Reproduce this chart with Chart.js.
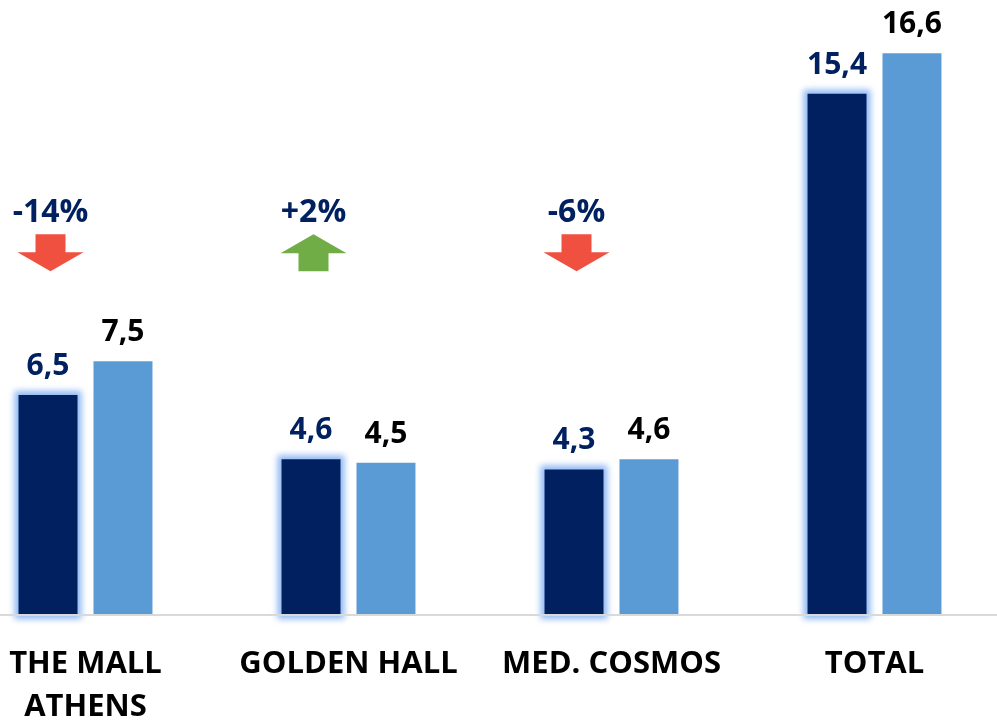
<!DOCTYPE html>
<html>
<head>
<meta charset="utf-8">
<script src="https://cdn.jsdelivr.net/npm/chart.js@4"></script>
<style>
  html, body { margin: 0; padding: 0; width: 997px; height: 721px; overflow: hidden; background: #fff; }
  #wrap { position: absolute; left: -46px; top: 0; width: 1052px; height: 721px; }
</style>
</head>
<body>
<div id="wrap"><canvas id="c" width="1052" height="721"></canvas></div>
<script>
const categories = [['THE MALL', 'ATHENS'], 'GOLDEN HALL', 'MED. COSMOS', 'TOTAL'];
const currentValues = [6.5, 4.6, 4.3, 15.4];
const previousValues = [7.5, 4.5, 4.6, 16.6];
const changeLabels = ['-14%', '+2%', '-6%', null];
const changeDirections = ['down', 'up', 'down', null];

const NAVY = '#002060';
const LIGHT = '#5B9BD5';
const FONT = '"Open Sans", "Noto Sans", sans-serif';

// soft light-blue glow behind the dark (current) bars
const glowPlugin = {
  id: 'glow',
  beforeDatasetDraw(chart, args) {
    if (args.index !== 0) return;
    const ctx = chart.ctx;
    const meta = chart.getDatasetMeta(0);
    ctx.save();
    ctx.filter = 'blur(3px)';
    ctx.fillStyle = '#8FB8F4';
    meta.data.forEach(bar => {
      const w = bar.width;
      const x0 = bar.x - w / 2;
      const top = Math.min(bar.y, bar.base);
      const h = Math.abs(bar.base - bar.y);
      const g = 4;
      ctx.fillRect(x0 - g, top - g, w + 2 * g, h + 2 * g);
    });
    ctx.restore();
  }
};

const labelPlugin = {
  id: 'labels',
  afterDatasetsDraw(chart) {
    const ctx = chart.ctx;
    const xs = chart.scales.x, ys = chart.scales.y;
    ctx.save();
    ctx.font = 'bold 30px ' + FONT;
    ctx.textAlign = 'center';
    ctx.textBaseline = 'alphabetic';
    chart.data.datasets.forEach((ds, di) => {
      const meta = chart.getDatasetMeta(di);
      meta.data.forEach((bar, i) => {
        ctx.fillStyle = di === 0 ? NAVY : '#000';
        ctx.fillText(String(ds.data[i]).replace('.', ','), bar.x, bar.y - 20);
      });
    });
    // change annotations
    const level = 11.25; // annotation level on the value axis
    changeLabels.forEach((lab, i) => {
      if (!lab) return;
      const cx = xs.getPixelForValue(i) - 35;
      const top = ys.getPixelForValue(level);
      ctx.fillStyle = NAVY;
      ctx.font = 'bold 32px ' + FONT;
      ctx.fillText(lab, cx, top - 12);
      const hw = 33, sw = 15, h = 37, hh = 19;
      ctx.beginPath();
      if (changeDirections[i] === 'down') {
        ctx.fillStyle = '#F05040';
        ctx.moveTo(cx - sw, top);
        ctx.lineTo(cx + sw, top);
        ctx.lineTo(cx + sw, top + h - hh);
        ctx.lineTo(cx + hw, top + h - hh);
        ctx.lineTo(cx, top + h);
        ctx.lineTo(cx - hw, top + h - hh);
        ctx.lineTo(cx - sw, top + h - hh);
      } else {
        ctx.fillStyle = '#70AD47';
        ctx.moveTo(cx, top);
        ctx.lineTo(cx + hw, top + hh);
        ctx.lineTo(cx + sw, top + hh);
        ctx.lineTo(cx + sw, top + h);
        ctx.lineTo(cx - sw, top + h);
        ctx.lineTo(cx - sw, top + hh);
        ctx.lineTo(cx - hw, top + hh);
      }
      ctx.closePath();
      ctx.fill();
    });
    ctx.restore();
  }
};

new Chart(document.getElementById('c'), {
  type: 'bar',
  data: {
    labels: categories,
    datasets: [
      { data: currentValues, backgroundColor: NAVY, borderWidth: 0 },
      { data: previousValues, backgroundColor: LIGHT, borderWidth: 0 }
    ]
  },
  options: {
    responsive: false,
    animation: false,
    devicePixelRatio: 1,
    layout: { padding: 0 },
    categoryPercentage: 0.57,
    barPercentage: 0.787,
    plugins: { legend: { display: false }, tooltip: { enabled: false } },
    scales: {
      x: {
        grid: { display: false, drawTicks: false },
        border: { display: true, color: '#D9D9D9', width: 2, z: 1 },
        ticks: {
          color: '#000',
          padding: 28,
          font: { family: FONT, weight: 'bold', size: 31, lineHeight: 1.39 },
          maxRotation: 0,
          autoSkip: false
        },
        afterFit(scale) { scale.height = 106; }
      },
      y: { display: false, min: 0, max: 18.17 }
    }
  },
  plugins: [glowPlugin, labelPlugin]
});
</script>
</body>
</html>
